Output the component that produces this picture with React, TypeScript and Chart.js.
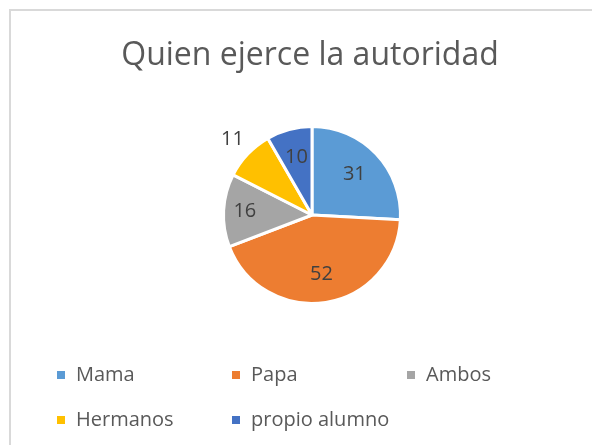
import React, { useEffect, useRef } from "react";
import { Chart, registerables } from "chart.js";

Chart.register(...registerables);

const TITLE = "Quien ejerce la autoridad";
const categories = ["Mama", "Papa", "Ambos", "Hermanos", "propio alumno"];
const values = [31, 52, 16, 11, 10];
const colors = ["#5B9BD5", "#ED7D31", "#A5A5A5", "#FFC000", "#4472C4"];
// radial position of each data label as a fraction of the radius
const labelRadius = [0.66, 0.68, 0.76, 1.24, 0.68];

const FONT = "'Open Sans', 'Liberation Sans', sans-serif";

const titlePlugin = {
  id: "excelTitle",
  afterDraw(chart: any) {
    const ctx = chart.ctx;
    ctx.save();
    ctx.fillStyle = "#595959";
    ctx.font = `32px ${FONT}`;
    ctx.textAlign = "center";
    ctx.textBaseline = "alphabetic";
    ctx.fillText(TITLE, 299, 54);
    ctx.restore();
  },
};

const dataLabelPlugin = {
  id: "excelDataLabels",
  afterDatasetsDraw(chart: any) {
    const ctx = chart.ctx;
    const meta = chart.getDatasetMeta(0);
    ctx.save();
    ctx.fillStyle = "#404040";
    ctx.font = `20px ${FONT}`;
    ctx.textAlign = "center";
    ctx.textBaseline = "middle";
    meta.data.forEach((arc: any, i: number) => {
      const { x, y, startAngle, endAngle, outerRadius } = arc.getProps(
        ["x", "y", "startAngle", "endAngle", "outerRadius"],
        true
      );
      const mid = (startAngle + endAngle) / 2;
      const r = outerRadius * labelRadius[i];
      ctx.fillText(String(values[i]), x + Math.cos(mid) * r, y + Math.sin(mid) * r);
    });
    ctx.restore();
  },
};

const legendPlugin = {
  id: "excelLegend",
  afterDraw(chart: any) {
    const ctx = chart.ctx;
    const colX = [46, 221, 396];
    const rowY = [364, 409];
    ctx.save();
    ctx.font = `20px ${FONT}`;
    ctx.textBaseline = "middle";
    ctx.textAlign = "left";
    categories.forEach((c, i) => {
      const col = i % 3;
      const row = Math.floor(i / 3);
      const x = colX[col];
      const y = rowY[row];
      ctx.fillStyle = colors[i];
      ctx.fillRect(x, y - 4, 8, 8);
      ctx.fillStyle = "#595959";
      ctx.fillText(c, x + 19, y);
    });
    ctx.restore();
  },
};

export default function App() {
  const ref = useRef<HTMLCanvasElement | null>(null);
  useEffect(() => {
    if (!ref.current) return;
    const chart = new Chart(ref.current, {
      type: "pie",
      data: {
        labels: categories,
        datasets: [
          {
            data: values,
            backgroundColor: colors,
            borderColor: "#ffffff",
            borderWidth: 3,
          },
        ],
      },
      options: {
        responsive: false,
        animation: false,
        layout: { padding: { top: 114, bottom: 141, left: 211, right: 199 } },
        plugins: {
          legend: { display: false },
          title: { display: false },
          tooltip: { enabled: false },
        },
      },
      plugins: [titlePlugin, dataLabelPlugin, legendPlugin],
    });
    return () => chart.destroy();
  }, []);
  return (
    <div
      style={{
        width: 590,
        height: 435,
        marginLeft: 1,
        marginTop: 1,
        borderLeft: "2px solid #d9d9d9",
        borderTop: "2px solid #d9d9d9",
        background: "#fff",
      }}
    >
      <canvas ref={ref} width={590} height={435} style={{ display: "block" }} />
    </div>
  );
}
